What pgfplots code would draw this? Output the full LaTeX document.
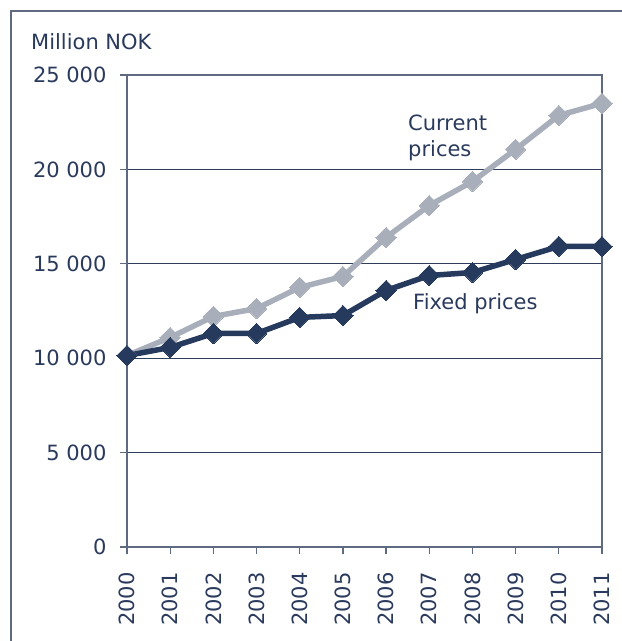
\documentclass[border=0pt]{standalone}
\usepackage{pgfplots}
\pgfplotsset{compat=1.18}
\usepackage{fontspec}
\setmainfont{DejaVu Sans}
\definecolor{navy}{HTML}{263A5E}
\definecolor{lightg}{HTML}{A8AFBB}
\definecolor{axc}{HTML}{5E6A82}
\definecolor{gridc}{HTML}{2E3D5C}
\definecolor{txt}{HTML}{2A3A5C}
\begin{document}
\begin{tikzpicture}[x=1pt,y=1pt]
\useasboundingbox (-127,-94) rectangle (495,547);
\draw[axc, line width=1.3pt] (-116,-94) -- (-116,536) -- (495,536);
\begin{axis}[
  at={(0pt,0pt)}, anchor=south west,
  scale only axis, width=475pt, height=472pt,
  xmin=2000, xmax=2011, ymin=0, ymax=25000,
  scaled y ticks=false, scaled x ticks=false,
  xtick={2000,2001,2002,2003,2004,2005,2006,2007,2008,2009,2010,2011},
  xticklabels={2000,2001,2002,2003,2004,2005,2006,2007,2008,2009,2010,2011},
  ytick={0,5000,10000,15000,20000,25000},
  yticklabels={0,5 000,10 000,15 000,20 000,25 000},
  xtick pos=left, ytick pos=left,
  tick align=outside, major tick length=7pt,
  ymajorgrids, grid style={gridc, line width=0.8pt},
  axis line style={axc, line width=1.3pt},
  tick style={axc, line width=1.3pt},
  ticklabel style={font=\fontsize{21}{25}\selectfont, text=txt},
  xticklabel style={rotate=90, anchor=east},
  xticklabel shift=15pt,
  yticklabel shift=10pt,
  clip=false,
]
\addplot[lightg, line width=5.5pt, mark=square*, mark size=7.2pt, mark options={rotate=45, solid, fill=lightg, draw=lightg, line width=0pt}]
coordinates {(2000,10140) (2001,11100) (2002,12210) (2003,12630) (2004,13750) (2005,14330) (2006,16400) (2007,18090) (2008,19360) (2009,21060) (2010,22860) (2011,23500)};
\addplot[navy, line width=5.5pt, mark=square*, mark size=7.2pt, mark options={rotate=45, solid, fill=navy, draw=navy, line width=0pt}]
coordinates {(2000,10140) (2001,10570) (2002,11310) (2003,11310) (2004,12160) (2005,12260) (2006,13590) (2007,14380) (2008,14540) (2009,15230) (2010,15920) (2011,15920)};
\end{axis}
\node[anchor=base west, inner sep=0pt, text=txt, font=\fontsize{21}{25}\selectfont] at (-96,497) {Million NOK};
\node[anchor=base west, inner sep=0pt, text=txt, font=\fontsize{21}{25}\selectfont] at (281,416) {Current};
\node[anchor=base west, inner sep=0pt, text=txt, font=\fontsize{21}{25}\selectfont] at (281,390) {prices};
\node[anchor=base west, inner sep=0pt, text=txt, font=\fontsize{21}{25}\selectfont] at (286,237) {Fixed prices};
\end{tikzpicture}
\end{document}
